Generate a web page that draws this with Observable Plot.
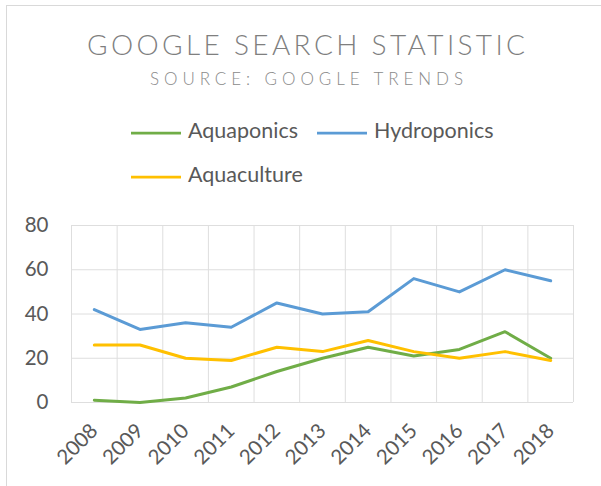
<!DOCTYPE html>
<html>
<head>
<meta charset="utf-8">
<script src="https://cdn.jsdelivr.net/npm/d3@7"></script>
<script src="https://cdn.jsdelivr.net/npm/@observablehq/plot@0.6"></script>
<style>
  html, body { margin: 0; padding: 0; background: #fff; }
  #wrap { position: relative; width: 601px; height: 486px; overflow: hidden; background: #fff; font-family: Lato, sans-serif; }
  #frame { position: absolute; left: 6px; top: 5px; width: 700px; height: 600px; border-left: 1px solid #d9d9d9; border-top: 1px solid #d9d9d9; }
  #header { position: absolute; left: 0; top: 0; }
  #chart { position: absolute; left: 0; top: 200px; }
</style>
</head>
<body>
<div id="wrap">
  <div id="frame"></div>
  <svg id="header" width="601" height="200"></svg>
  <div id="chart"></div>
</div>
<script>
const titleText = "GOOGLE SEARCH STATISTIC";
const subtitleText = "SOURCE: GOOGLE TRENDS";
const years = [2008, 2009, 2010, 2011, 2012, 2013, 2014, 2015, 2016, 2017, 2018];
const seriesNames = ["Aquaponics", "Hydroponics", "Aquaculture"];
const seriesColors = ["#70AD47", "#5B9BD5", "#FFC000"];
const aquaponics  = [1, 0, 2, 7, 14, 20, 25, 21, 24, 32, 20];
const hydroponics = [42, 33, 36, 34, 45, 40, 41, 56, 50, 60, 55];
const aquaculture = [26, 26, 20, 19, 25, 23, 28, 23, 20, 23, 19];
const yTicks = [0, 20, 40, 60, 80];

const seriesValues = [aquaponics, hydroponics, aquaculture];
const rows = seriesNames.flatMap((name, i) =>
  years.map((year, j) => ({series: name, year, value: seriesValues[i][j]})));
const boundaries = [years[0] - 0.5, ...years.map(y => y + 0.5)];

// Header: title, subtitle, legend
const header = d3.select("#header");
header.append("text")
  .attr("x", 87).attr("y", 55)
  .attr("textLength", 438).attr("lengthAdjust", "spacing")
  .attr("font-family", "Lato, sans-serif").attr("font-weight", 300)
  .attr("font-size", 28).attr("fill", "#7f7f7f")
  .text(titleText);
header.append("text")
  .attr("x", 150).attr("y", 85)
  .attr("textLength", 313).attr("lengthAdjust", "spacing")
  .attr("font-family", "Lato, sans-serif").attr("font-weight", 300)
  .attr("font-size", 17).attr("fill", "#8a8a8a")
  .text(subtitleText);

const legendPos = [[131, 133], [317, 133], [131, 177]];
seriesNames.forEach((name, i) => {
  const [lx, ly] = legendPos[i];
  header.append("line")
    .attr("x1", lx).attr("x2", lx + 50).attr("y1", ly).attr("y2", ly)
    .attr("stroke", seriesColors[i]).attr("stroke-width", 2.75);
  header.append("text")
    .attr("x", lx + 57).attr("y", ly + 5)
    .attr("font-family", "Lato, sans-serif")
    .attr("font-size", 21.5).attr("fill", "#595959")
    .text(name);
});

const chart = Plot.plot({
  width: 601,
  height: 286,
  marginLeft: 71,
  marginRight: 28,
  marginTop: 25,
  marginBottom: 84,
  style: {fontFamily: "Lato, sans-serif", fontSize: "20px", color: "#595959", background: "transparent"},
  x: {type: "linear", domain: [years[0] - 0.5, years[years.length - 1] + 0.5]},
  y: {domain: [0, 80]},
  color: {domain: seriesNames, range: seriesColors},
  marks: [
    Plot.ruleY(yTicks, {stroke: "#dedede", strokeWidth: 1}),
    Plot.ruleX(boundaries, {y1: 0, y2: 80, stroke: "#dedede", strokeWidth: 1}),
    Plot.axisY({ticks: yTicks, tickSize: 0, tickPadding: 23, label: null, fontSize: 20.5}),
    Plot.axisX({ticks: years, tickFormat: d => String(d), tickSize: 0, tickPadding: 25, tickRotate: -45, label: null, fontSize: 20.5}),
    Plot.line(rows, {x: "year", y: "value", z: "series", stroke: "series", strokeWidth: 3, strokeLinecap: "round", strokeLinejoin: "round"})
  ]
});
document.getElementById("chart").appendChild(chart);
</script>
</body>
</html>
